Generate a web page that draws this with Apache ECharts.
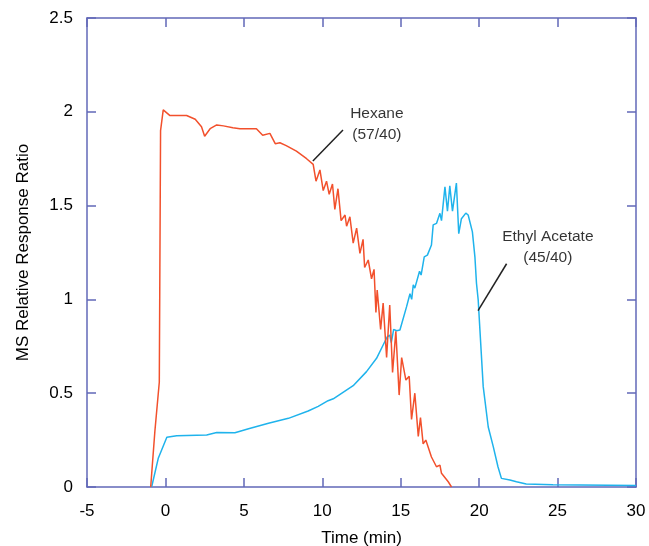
<!DOCTYPE html>
<html>
<head>
<meta charset="utf-8">
<script src="https://cdn.jsdelivr.net/npm/echarts@6/dist/echarts.min.js"></script>
<style>
html,body{margin:0;padding:0;background:#fff;}
#chart{width:649px;height:546px;}
</style>
</head>
<body>
<div id="chart"></div>
<script>
// ---- data (time in min, MS relative response ratio) ----
const xTicks = [-5, 0, 5, 10, 15, 20, 25, 30];
const yTicks = [0, 0.5, 1, 1.5, 2, 2.5];

const hexaneTime = [-0.94,-0.67,-0.39,-0.31,-0.14,0.29,1.35,1.9,2.3,2.5,2.85,3.27,3.7,4.3,4.75,5.8,6.2,6.66,7.0,7.3,7.7,8.35,9.0,9.42,9.6,9.85,10.06,10.27,10.44,10.65,10.8,11.0,11.2,11.45,11.55,11.76,11.97,12.19,12.4,12.6,12.7,12.93,13.14,13.3,13.42,13.5,13.72,13.88,14.1,14.3,14.48,14.69,14.9,15.06,15.33,15.54,15.69,15.9,16.12,16.26,16.43,16.6,16.96,17.28,17.5,17.6,18.03,18.24];
const hexaneRatio = [0,0.30,0.56,1.90,2.01,1.98,1.98,1.96,1.92,1.87,1.91,1.93,1.925,1.915,1.91,1.91,1.875,1.885,1.83,1.835,1.82,1.79,1.75,1.72,1.63,1.69,1.58,1.63,1.56,1.615,1.48,1.59,1.42,1.45,1.39,1.44,1.30,1.38,1.245,1.32,1.17,1.21,1.11,1.16,0.93,1.05,0.84,0.98,0.69,0.97,0.61,0.83,0.49,0.69,0.57,0.59,0.36,0.50,0.27,0.37,0.23,0.25,0.16,0.108,0.117,0.073,0.028,0];

const ethylTime = [-0.88,-0.45,0.09,0.72,2.63,3.27,4.43,5.3,6.57,7.84,9.1,9.74,10.37,10.7,11.97,12.82,13.46,13.88,14.14,14.3,14.4,14.55,14.74,14.95,15.37,15.59,15.7,15.8,15.9,16.2,16.3,16.5,16.7,16.96,17.07,17.28,17.5,17.6,17.82,17.98,18.13,18.3,18.55,18.7,18.87,19.15,19.3,19.57,19.73,19.83,19.94,20.05,20.26,20.58,20.9,21.2,21.42,21.96,22.38,23.0,24.7,30];
const ethylRatio = [0,0.155,0.265,0.273,0.277,0.29,0.289,0.31,0.34,0.366,0.405,0.43,0.46,0.47,0.54,0.615,0.686,0.757,0.80,0.81,0.77,0.84,0.833,0.837,0.96,1.03,1.0,1.077,1.06,1.15,1.13,1.227,1.236,1.29,1.397,1.405,1.459,1.42,1.60,1.47,1.605,1.47,1.62,1.35,1.43,1.46,1.45,1.36,1.227,1.086,0.997,0.837,0.535,0.32,0.215,0.108,0.046,0.037,0.028,0.016,0.012,0.008];

// annotations (data coordinates)
const hexaneLabel = {text: 'Hexane\n(57/40)', at: [13.48, 1.935]};
const hexaneLeader = [[9.40, 1.738], [11.32, 1.903]];
const ethylLabel = {text: 'Ethyl Acetate\n(45/40)', at: [24.38, 1.278]};
const ethylLeader = [[19.93, 0.94], [21.75, 1.19]];

const zip = (a, b) => a.map((v, i) => [v, b[i]]);

const axisColor = '#6268b8';
const font = 'Arial, "Liberation Sans", Helvetica, sans-serif';

const chart = echarts.init(document.getElementById('chart'), null, {renderer: 'canvas'});

const baseX = {
  type: 'value', min: -5, max: 30, interval: 5,
  axisLine: {show: true, onZero: false, lineStyle: {color: axisColor, width: 1.5}},
  axisTick: {show: true, inside: true, length: 9, lineStyle: {color: axisColor, width: 1.5}},
  splitLine: {show: false}
};
const baseY = {
  type: 'value', min: 0, max: 2.5, interval: 0.5,
  axisLine: {show: true, onZero: false, lineStyle: {color: axisColor, width: 1.5}},
  axisTick: {show: true, inside: true, length: 9, lineStyle: {color: axisColor, width: 1.5}},
  splitLine: {show: false}
};

const textLabel = (lbl) => ({
  type: 'scatter', xAxisIndex: 0, yAxisIndex: 0,
  data: [lbl.at], symbolSize: 0, silent: true,
  label: {show: true, position: 'inside', formatter: lbl.text, color: '#000',
    fontFamily: font, fontSize: 15.5, lineHeight: 21, align: 'center', verticalAlign: 'middle'}
});
const leader = (pts) => ({
  type: 'line', xAxisIndex: 0, yAxisIndex: 0, data: pts, showSymbol: false, silent: true,
  lineStyle: {color: '#222', width: 1.5}
});

chart.setOption({
  animation: false,
  backgroundColor: '#fff',
  grid: {left: 87, right: 13, top: 18, bottom: 59, containLabel: false, outerBoundsMode: 'none'},
  xAxis: [
    Object.assign({}, baseX, {
      position: 'bottom',
      name: 'Time (min)', nameLocation: 'middle', nameGap: 43,
      nameTextStyle: {fontFamily: font, fontSize: 17, color: '#000'},
      axisLabel: {show: true, margin: 16, fontFamily: font, fontSize: 17, color: '#000',
        formatter: v => xTicks.includes(v) ? String(v) : ''}
    }),
    Object.assign({}, baseX, {position: 'top', axisLabel: {show: false}})
  ],
  yAxis: [
    Object.assign({}, baseY, {
      position: 'left',
      name: 'MS Relative Response Ratio', nameLocation: 'middle', nameGap: 55,
      nameTextStyle: {fontFamily: font, fontSize: 17, color: '#000'},
      axisLabel: {show: true, margin: 14, fontFamily: font, fontSize: 17, color: '#000',
        formatter: v => yTicks.includes(v) ? String(v) : ''}
    }),
    Object.assign({}, baseY, {position: 'right', axisLabel: {show: false}})
  ],
  series: [
    {
      name: 'Ethyl Acetate (45/40)', type: 'line', xAxisIndex: 0, yAxisIndex: 0,
      data: zip(ethylTime, ethylRatio), showSymbol: false,
      lineStyle: {color: '#1fb3ec', width: 1.5}
    },
    {
      name: 'Hexane (57/40)', type: 'line', xAxisIndex: 0, yAxisIndex: 0,
      data: zip(hexaneTime, hexaneRatio), showSymbol: false,
      lineStyle: {color: '#f2502c', width: 1.5}
    },
    leader(hexaneLeader),
    leader(ethylLeader),
    textLabel(hexaneLabel),
    textLabel(ethylLabel)
  ]
});
</script>
</body>
</html>
